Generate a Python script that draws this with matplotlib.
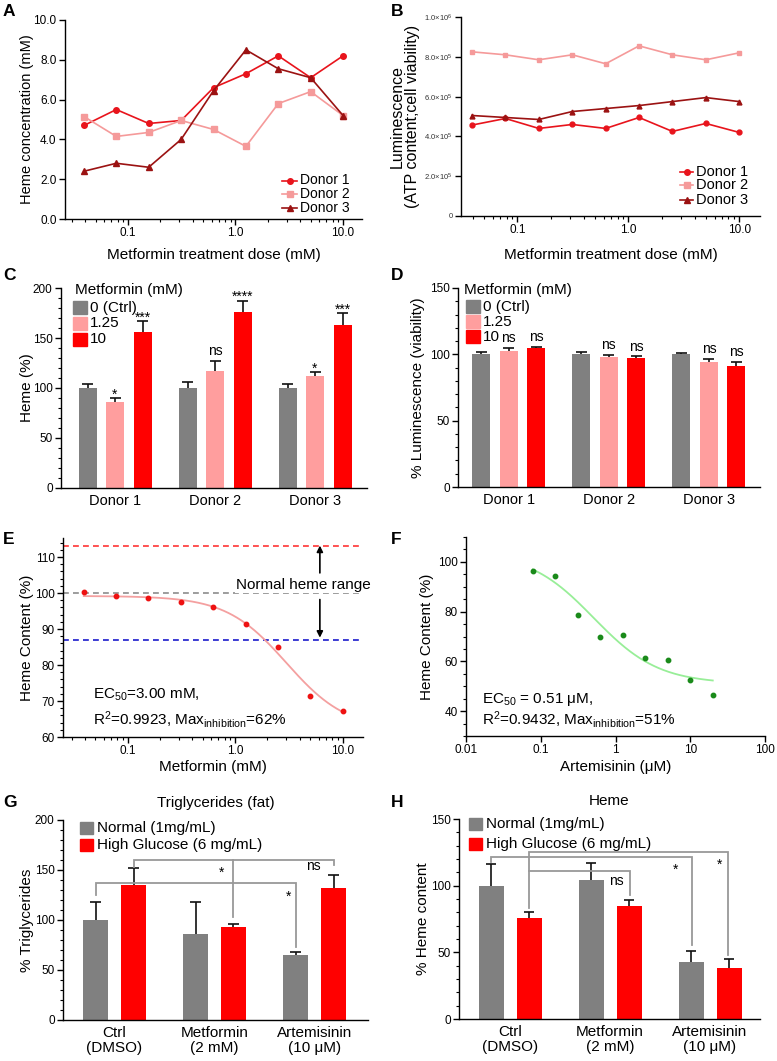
import numpy as np
import matplotlib
matplotlib.use('Agg')
import matplotlib.pyplot as plt
from matplotlib.patches import Rectangle
from matplotlib.lines import Line2D
from matplotlib.ticker import MultipleLocator, NullFormatter, NullLocator

plt.rcParams['font.family'] = ['Liberation Sans', 'DejaVu Sans']
plt.rcParams['mathtext.fontset'] = 'custom'
plt.rcParams['mathtext.rm'] = 'Liberation Sans'
plt.rcParams['mathtext.it'] = 'Liberation Sans:italic'
plt.rcParams['mathtext.bf'] = 'Liberation Sans:bold'

# ---- data ----
dose = [0.039, 0.078, 0.156, 0.3125, 0.625, 1.25, 2.5, 5, 10]
donors = ['Donor 1', 'Donor 2', 'Donor 3']

# A: heme concentration (mM)
heme_d1 = [4.7, 5.5, 4.8, 4.95, 6.6, 7.3, 8.2, 7.1, 8.2]
heme_d2 = [5.15, 4.15, 4.35, 4.95, 4.5, 3.65, 5.8, 6.4, 5.2]
heme_d3 = [2.4, 2.8, 2.6, 4.0, 6.45, 8.5, 7.55, 7.1, 5.2]

# B: luminescence
lum_d1 = [4.57e5, 4.9e5, 4.4e5, 4.6e5, 4.4e5, 4.95e5, 4.25e5, 4.65e5, 4.2e5]
lum_d2 = [8.25e5, 8.1e5, 7.85e5, 8.1e5, 7.65e5, 8.55e5, 8.1e5, 7.85e5, 8.2e5]
lum_d3 = [5.05e5, 4.95e5, 4.85e5, 5.25e5, 5.4e5, 5.55e5, 5.75e5, 5.95e5, 5.75e5]

# C: heme % per donor, metformin 0 / 1.25 / 10 mM
met_doses = ['0 (Ctrl)', '1.25', '10']
heme_pct = [[100, 100, 100], [86, 117, 112], [156, 176, 163]]
heme_pct_err = [[4, 5.7, 4], [3.6, 10, 3.7], [10.7, 11.3, 11.7]]
heme_sig = [None, ['*', 'ns', '*'], ['***', '****', '***']]

# D: % luminescence per donor
via_pct = [[100, 100, 100], [102.8, 98.2, 94.2], [104.8, 97, 91.5]]
via_pct_err = [[1.5, 1.8, 0.7], [2.2, 1.5, 2.5], [0.7, 1.5, 2.7]]
via_sig = [None, ['ns', 'ns', 'ns'], ['ns', 'ns', 'ns']]

# E: metformin dose response
e_heme = [100.3, 99.3, 98.6, 97.5, 96.0, 91.3, 85.0, 71.5, 67.1]
e_fit = dict(top=99.2, bottom=62.0, ec50=3.0, hill=1.55)
normal_hi, normal_mid, normal_lo = 113.2, 100, 87.0

# F: artemisinin dose response (uM)
art_dose = [0.078, 0.156, 0.3125, 0.625, 1.25, 2.5, 5, 10, 20]
f_heme = [96.3, 94.4, 78.8, 70.0, 70.7, 61.2, 60.7, 52.6, 46.3]
f_fit = dict(top=104.0, bottom=51.0, ec50=0.51, hill=1.0)

# G / H
treatments = ['Ctrl\n(DMSO)', 'Metformin\n(2 mM)', 'Artemisinin\n(10 \u03bcM)']
media = ['Normal (1mg/mL)', 'High Glucose (6 mg/mL)']
tg_normal = [100, 86.3, 65]
tg_normal_err = [17.7, 32, 2.7]
tg_high = [135, 92.7, 132.3]
tg_high_err = [16.7, 3.6, 12.4]
hm_normal = [100, 104, 42.6]
hm_normal_err = [16, 13, 8.5]
hm_high = [75.6, 85.1, 38.6]
hm_high_err = [4.5, 3.8, 6.5]

# ---- figure ----
W, H = 777, 1061
fig = plt.figure(figsize=(W / 100, H / 100), dpi=100)
fig.patch.set_facecolor('white')

GRAY, PINK, RED = '#808080', '#ff9e9e', '#ff0000'
line_cols = ['#e8141c', '#f59a9a', '#9b1212']
line_marks = ['o', 's', '^']


def box(l, t, r, b):
    return [l / W, 1 - b / H, (r - l) / W, (b - t) / H]


def fx(x):
    return x / W


def fy(y):
    return 1 - y / H


def prism(ax):
    ax.spines['top'].set_visible(False)
    ax.spines['right'].set_visible(False)
    for s in ['left', 'bottom']:
        ax.spines[s].set_linewidth(1.0)
    ax.tick_params(direction='out', length=4, width=1, labelsize=8.5, pad=2)
    ax.tick_params(which='minor', length=2, width=0.8)


def ylab(ax, text, xpx, fs=11, **kw):
    ax.set_ylabel(text, fontsize=fs, va='center', **kw)
    pos = ax.get_position()
    ax.yaxis.set_label_coords((fx(xpx) - pos.x0) / pos.width, 0.5)


def xlab(ax, text, ypx, fs=11):
    ax.set_xlabel(text, fontsize=fs, va='center')
    pos = ax.get_position()
    ax.xaxis.set_label_coords(0.5, (fy(ypx) - pos.y0) / pos.height)


def letter(x, y, s):
    fig.text(fx(x), fy(y), s, fontsize=12.5, fontweight='bold', va='top', ha='left')


def line_key(x0, x1, ys, labels, fs=10.5):
    for y, c, m, lab in zip(ys, line_cols, line_marks, labels):
        fig.add_artist(Line2D([fx(x0), fx(x1)], [fy(y)] * 2, color=c, lw=1.2,
                              transform=fig.transFigure))
        fig.add_artist(Line2D([fx((x0 + x1) / 2)], [fy(y)], marker=m, ms=4, color=c,
                              transform=fig.transFigure))
        fig.text(fx(x1 + 3), fy(y), lab, fontsize=fs, va='center')


def square_key(x0, x1, ys, hpx, labels, colors, tx, fs=11):
    for y, lab, c in zip(ys, labels, colors):
        fig.add_artist(Rectangle((fx(x0), fy(y + hpx / 2)), (x1 - x0) / W, hpx / H,
                                 color=c, transform=fig.transFigure))
        fig.text(fx(tx), fy(y), lab, fontsize=fs, va='center')


def bars(ax, centers, offsets, width, means, errs, colors, capw):
    tops_all = []
    for off, m, e, c in zip(offsets, means, errs, colors):
        x = np.asarray(centers, float) + off
        m = np.asarray(m, float)
        tops = m + np.asarray(e, float)
        ax.bar(x, m, width, color=c, zorder=2)
        ax.vlines(x, m, tops, color='#111111', lw=1.2, zorder=3)
        ax.hlines(tops, x - capw, x + capw, color='#111111', lw=1.2, zorder=3)
        tops_all.append((x, tops))
    return tops_all


def logfit(p, xmin, xmax):
    x = np.logspace(np.log10(xmin), np.log10(xmax), 300)
    y = p['bottom'] + (p['top'] - p['bottom']) / (1 + (x / p['ec50']) ** p['hill'])
    return x, y


def dose_axis(ax):
    ax.set_xscale('log')
    ax.set_xticks([0.1, 1, 10])
    ax.set_xticklabels(['0.1', '1.0', '10.0'])
    ax.xaxis.set_minor_formatter(NullFormatter())


# ---- A ----
axA = fig.add_axes(box(65, 20, 362, 219))
for y, c, m, lab in zip([heme_d1, heme_d2, heme_d3], line_cols, line_marks, donors):
    axA.plot(dose, y, color=c, marker=m, ms=4, lw=1.2, label=lab)
dose_axis(axA)
axA.set_xlim(0.026, 15)
axA.set_ylim(0, 10)
axA.set_yticks(np.arange(0, 10.1, 2))
axA.set_yticklabels(['%.1f' % v for v in np.arange(0, 10.1, 2)])
prism(axA)
ylab(axA, 'Heme concentration (mM)', 27, fs=10.5)
xlab(axA, 'Metformin treatment dose (mM)', 255)
line_key(282, 297, [180.5, 194.3, 208], donors, fs=10)

# ---- B ----
axB = fig.add_axes(box(461, 17, 760, 216))
for y, c, m, lab in zip([lum_d1, lum_d2, lum_d3], line_cols, line_marks, donors):
    axB.plot(dose, y, color=c, marker=m, ms=3.5, lw=1.2, label=lab)
dose_axis(axB)
axB.set_xlim(0.031, 15.4)
axB.set_ylim(0, 1e6)
axB.set_yticks([0, 2e5, 4e5, 6e5, 8e5, 1e6])
axB.set_yticklabels(['0', '2.0\u00d710$^5$', '4.0\u00d710$^5$', '6.0\u00d710$^5$',
                     '8.0\u00d710$^5$', '1.0\u00d710$^6$'])
prism(axB)
axB.tick_params(axis='y', labelsize=5.5, labelcolor='#333333')
ylab(axB, 'Luminescence\n(ATP content;cell viability)', 405, fs=11.5, linespacing=1.05)
xlab(axB, 'Metformin treatment dose (mM)', 255)
line_key(680, 693, [171.7, 185.3, 200], donors)


# ---- C & D ----
def donor_bars(ax, means, errs, sig, capw=0.055):
    tops = bars(ax, [0, 1, 2], [-0.275, 0, 0.275], 0.18, means, errs, [GRAY, PINK, RED], capw)
    for (x, t), labs in zip(tops, sig):
        if labs is None:
            continue
        for xi, ti, s in zip(x, t, labs):
            off = 4 if s == 'ns' else 0
            ax.annotate(s, (xi, ti), xytext=(0, off), textcoords='offset points',
                        ha='center', va='baseline', fontsize=10)
    ax.set_xticks([0, 1, 2])
    ax.set_xticklabels(donors)
    prism(ax)
    ax.tick_params(axis='x', length=0, labelsize=10.5, pad=4)
    ax.yaxis.set_minor_locator(MultipleLocator(10))


axC = fig.add_axes(box(61, 288, 367, 488))
donor_bars(axC, heme_pct, heme_pct_err, heme_sig)
axC.set_xlim(-0.54, 2.52)
axC.set_ylim(0, 200)
axC.set_yticks([0, 50, 100, 150, 200])
ylab(axC, 'Heme (%)', 27)
fig.text(fx(75), fy(290), 'Metformin (mM)', fontsize=11, va='center')
square_key(72.7, 86.7, [307.7, 323.3, 339], 13, met_doses, [GRAY, PINK, RED], 90)

axD = fig.add_axes(box(458, 288, 760, 487))
donor_bars(axD, via_pct, via_pct_err, via_sig)
axD.set_xlim(-0.505, 2.51)
axD.set_ylim(0, 150)
axD.set_yticks([0, 50, 100, 150])
ylab(axD, '% Luminescence (viability)', 418)
fig.text(fx(464), fy(290), 'Metformin (mM)', fontsize=11, va='center')
square_key(466, 480, [306.7, 321.7, 336.7], 13, met_doses, [GRAY, PINK, RED], 483)

# ---- E ----
axE = fig.add_axes(box(63, 538, 363, 737))
axE.axhline(normal_hi, color='#ff3333', ls=(0, (3.5, 2.5)), lw=1.2, zorder=1)
axE.axhline(normal_mid, color='#8c8c8c', ls=(0, (3.5, 2.5)), lw=1.2, zorder=1)
axE.axhline(normal_lo, color='#1a1acc', ls=(0, (3.5, 2.5)), lw=1.2, zorder=1)
xf, yf = logfit(e_fit, dose[0], dose[-1])
axE.plot(xf, yf, color='#f4a0a0', lw=1.3, zorder=2)
axE.plot(dose, e_heme, 'o', color='#ee1111', ms=3.2, zorder=3)
dose_axis(axE)
axE.set_xlim(0.025, 15.5)
axE.set_ylim(60, 115.3)
axE.set_yticks(np.arange(60, 111, 10))
axE.yaxis.set_minor_locator(MultipleLocator(2))
prism(axE)
ylab(axE, 'Heme Content (%)', 27)
xlab(axE, 'Metformin (mM)', 767)
axE.text(4.3, 102.2, 'Normal heme range', fontsize=11, ha='center', va='center',
         bbox=dict(facecolor='white', edgecolor='none', pad=0.5), zorder=4, clip_on=False)
axE.annotate('', xy=(6.15, normal_hi), xytext=(6.15, 105.6),
             arrowprops=dict(arrowstyle='-|>', color='black', lw=1.2, mutation_scale=9,
                             shrinkA=0, shrinkB=0))
axE.annotate('', xy=(6.15, normal_lo + 0.6), xytext=(6.15, 98.2),
             arrowprops=dict(arrowstyle='-|>', color='black', lw=1.2, mutation_scale=9,
                             shrinkA=0, shrinkB=0))
fig.text(fx(93), fy(695), 'EC$_{50}$=3.00 mM,', fontsize=11, va='center')
fig.text(fx(93), fy(719), 'R$^{2}$=0.9923, Max$_{\\mathrm{inhibition}}$=62%', fontsize=11, va='center')

# ---- F ----
axF = fig.add_axes(box(466, 537, 765, 736))
xf, yf = logfit(f_fit, art_dose[0], art_dose[-1])
axF.plot(xf, yf, color='#98ee98', lw=1.3, zorder=2)
axF.plot(art_dose, f_heme, 'o', color='#1a8a1a', ms=3.2, zorder=3)
axF.set_xscale('log')
axF.set_xlim(0.01, 100)
axF.set_xticks([0.01, 0.1, 1, 10, 100])
axF.set_xticklabels(['0.01', '0.1', '1', '10', '100'])
axF.xaxis.set_minor_locator(NullLocator())
axF.set_ylim(30, 110)
axF.set_yticks([40, 60, 80, 100])
axF.yaxis.set_minor_locator(MultipleLocator(5))
prism(axF)
ylab(axF, 'Heme Content (%)', 427)
xlab(axF, 'Artemisinin (\u03bcM)', 767)
fig.text(fx(481.7), fy(700), 'EC$_{50}$ = 0.51 \u03bcM,', fontsize=11, va='center')
fig.text(fx(481.7), fy(720), 'R$^{2}$=0.9432, Max$_{\\mathrm{inhibition}}$=51%', fontsize=11, va='center')


# ---- G & H ----
def glucose_bars(ax, normal, normal_err, high, high_err):
    bars(ax, [0, 1, 2], [-0.19, 0.19], 0.25, [normal, high], [normal_err, high_err],
         [GRAY, RED], 0.053)
    ax.set_xticks([0, 1, 2])
    ax.set_xticklabels(treatments, linespacing=1.1)
    prism(ax)
    ax.tick_params(axis='x', length=0, labelsize=11, pad=4)
    ax.yaxis.set_minor_locator(MultipleLocator(10))


def bracket(ax, pts, color='#999999'):
    xs, ys = zip(*pts)
    ax.plot(xs, ys, color=color, lw=1.3, zorder=4, solid_joinstyle='miter')


axG = fig.add_axes(box(63, 820, 368, 1020))
glucose_bars(axG, tg_normal, tg_normal_err, tg_high, tg_high_err)
axG.set_xlim(-0.515, 2.535)
axG.set_ylim(0, 200)
axG.set_yticks([0, 50, 100, 150, 200])
ylab(axG, '% Triglycerides', 27)
axG.set_title('Triglycerides (fat)', fontsize=11, pad=9)
bracket(axG, [(-0.19, 125), (-0.19, 136.7), (1.81, 136.7), (1.81, 73)])
bracket(axG, [(0.19, 153), (0.19, 160), (2.19, 160), (2.19, 155)])
bracket(axG, [(1.19, 160), (1.19, 103)])
axG.text(1.07, 143, '*', fontsize=10, ha='center', va='baseline')
axG.text(1.745, 119, '*', fontsize=10, ha='center', va='baseline')
axG.text(1.985, 150, 'ns', fontsize=10, ha='center', va='baseline')
square_key(80, 93, [828.3, 845], 12, media, [GRAY, RED], 96.7)

axH = fig.add_axes(box(459, 819, 760, 1019))
glucose_bars(axH, hm_normal, hm_normal_err, hm_high, hm_high_err)
axH.set_xlim(-0.51, 2.5)
axH.set_ylim(0, 150)
axH.set_yticks([0, 50, 100, 150])
ylab(axH, '% Heme content', 423)
axH.set_title('Heme', fontsize=11, pad=10)
bracket(axH, [(-0.19, 118), (-0.19, 121.8), (1.815, 121.8), (1.815, 55.5)])
bracket(axH, [(0.19, 83), (0.19, 125), (2.18, 125), (2.18, 48)])
bracket(axH, [(0.19, 111), (1.2, 111), (1.2, 93)])
axH.text(1.66, 108.8, '*', fontsize=10, ha='center', va='baseline')
axH.text(2.1, 112.3, '*', fontsize=10, ha='center', va='baseline')
axH.text(1.065, 100.5, 'ns', fontsize=10, ha='center', va='baseline')
square_key(469, 482, [824.3, 844.3], 12, media, [GRAY, RED], 485.7)

# panel letters
for s, x, y in [('A', 3, 4), ('B', 391, 4), ('C', 3, 268), ('D', 391, 268),
                ('E', 3, 532), ('F', 391, 532), ('G', 3, 795), ('H', 391, 795)]:
    letter(x, y, s)

fig.savefig('out.png', dpi=100, facecolor='white')
